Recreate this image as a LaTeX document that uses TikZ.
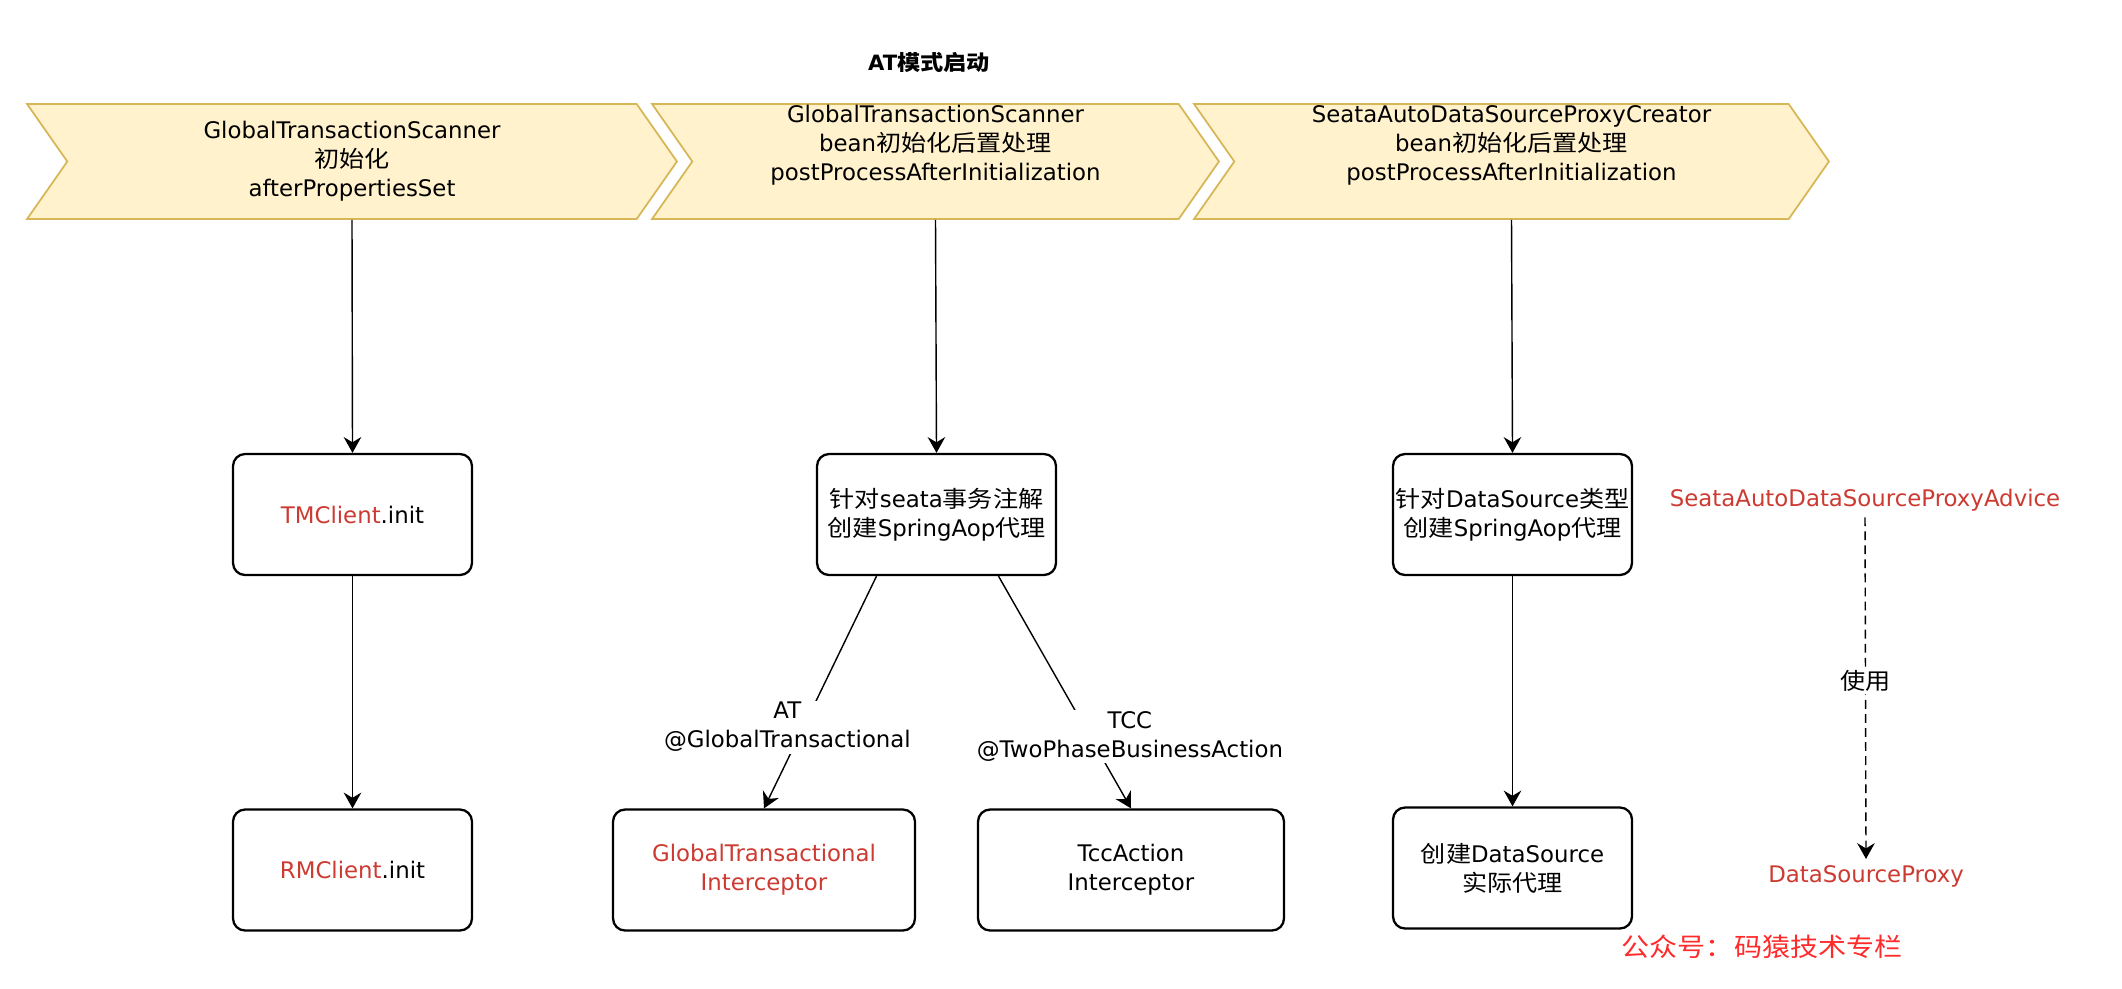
\documentclass[tikz,border=0pt]{standalone}
\usepackage{fontspec}
\setmainfont{DejaVu Sans}
\newfontfamily\zhfont[FakeStretch=1.1]{Noto Sans CJK SC}
\newcommand{\zh}[1]{{\zhfont #1}}
\usetikzlibrary{arrows.meta,shapes.symbols}
\definecolor{chevfill}{HTML}{FFF2CC}
\definecolor{chevline}{HTML}{D6B656}
\definecolor{clsred}{HTML}{CC3A31}
\definecolor{markred}{HTML}{FF2A2A}

\begin{document}
\begin{tikzpicture}[x=0.02cm,y=-0.02cm,font=\fontsize{13}{16.5}\selectfont,
  chev/.style={signal,signal from=west,signal to=east,signal pointer angle=110,
    draw=chevline,fill=chevfill,line width=1pt,minimum height=2.3cm,align=center,inner sep=0pt},
  box/.style={draw,line width=1.3pt,rounded corners=0.24cm,minimum width=4.78cm,
    minimum height=2.42cm,align=center,inner xsep=1pt},
  flow/.style={-{Stealth[length=9pt,width=10pt,inset=3pt]},line width=0.8pt},
  tag/.style={fill=white,align=center,inner sep=1pt}]

\useasboundingbox (0,0) rectangle (2122,988);

\node[font=\fontsize{12}{14}\selectfont\bfseries] (title) at (929,62) {AT\zh{模式启动}};

\node[chev,minimum width=13cm] (init) at (352,161.5)
  {GlobalTransactionScanner\\\zh{初始化}\\afterPropertiesSet};
\node[chev,minimum width=11.34cm] (beanpp) at (935.5,161.5)
  {GlobalTransactionScanner\\bean\zh{初始化后置处理}\\postProcessAfterInitialization\\\strut};
\node[chev,minimum width=12.7cm] (dspp) at (1511.5,161.5)
  {SeataAutoDataSourceProxyCreator\\bean\zh{初始化后置处理}\\postProcessAfterInitialization\\\strut};

\node[box] (tmc) at (352.5,514.5) {\textcolor{clsred}{TMClient}.init};
\node[box] (rmc) at (352.5,870) {\textcolor{clsred}{RMClient}.init};
\node[box] (aop) at (936.5,514.5) {\zh{针对}seata\zh{事务注解}\\\zh{创建}SpringAop\zh{代理}};
\node[box,minimum width=6.04cm,text=clsred] (gtint) at (764,870) {GlobalTransactional\\Interceptor};
\node[box,minimum width=6.12cm] (tccint) at (1131,870) {TccAction\\Interceptor};
\node[box] (dsaop) at (1512.5,514.5) {\zh{针对}DataSource\zh{类型}\\\zh{创建}SpringAop\zh{代理}};
\node[box] (dsreal) at (1512.5,868) {\zh{创建}DataSource\\\zh{实际代理}};

\node[text=clsred] (advice) at (1865,500) {SeataAutoDataSourceProxyAdvice};
\node[text=clsred] (proxy) at (1866,876) {DataSourceProxy};

\draw[flow] (init.south) -- (tmc.north);
\draw[flow] (tmc.south) -- (rmc.north);
\draw[flow] (beanpp.south) -- (aop.north);
\draw[flow] ([xshift=-1.2cm]aop.south) -- node[tag,pos=.65,xshift=-.32cm] {AT\\@GlobalTransactional} (gtint.north);
\draw[flow] ([xshift=1.24cm]aop.south) -- node[tag,pos=.69,xshift=.8cm] {TCC\\@TwoPhaseBusinessAction} (tccint.north);
\draw[flow] (dspp.south) -- (dsaop.north);
\draw[flow] (dsaop.south) -- (dsreal.north);
\draw[flow,dash pattern=on 5pt off 3pt] (advice.south) -- node[tag,pos=.48] {\zh{使用}} (proxy.north);

\node[text=markred,font=\zhfont\fontsize{14.5}{16}\selectfont] (mark) at (1762,947) {公众号：码猿技术专栏};

\end{tikzpicture}
\end{document}
